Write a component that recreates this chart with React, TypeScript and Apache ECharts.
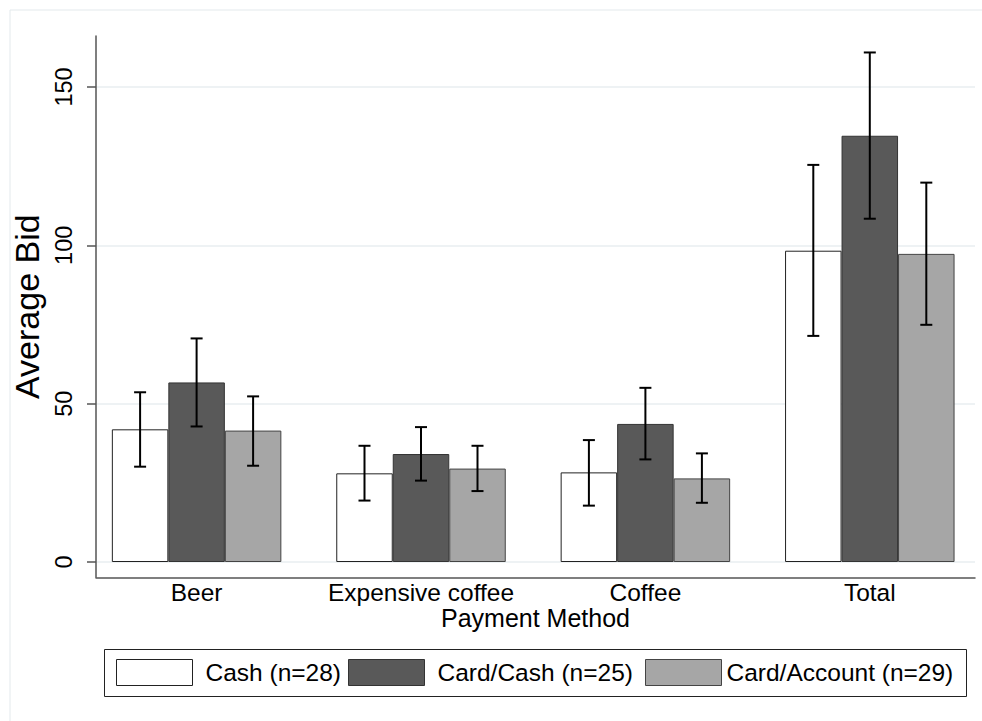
import React, { useEffect, useRef } from "react";
import * as echarts from "echarts";

const categories = ["Beer", "Expensive coffee", "Coffee", "Total"];
const seriesNames = ["Cash (n=28)", "Card/Cash (n=25)", "Card/Account (n=29)"];
const cashMean = [41.9, 28.0, 28.3, 98.3];
const cashLow = [30.1, 19.4, 17.8, 71.4];
const cashHigh = [53.6, 36.7, 38.5, 125.4];
const cardCashMean = [56.7, 34.1, 43.6, 134.6];
const cardCashLow = [42.8, 25.7, 32.4, 108.4];
const cardCashHigh = [70.6, 42.6, 55.0, 160.9];
const cardAccMean = [41.5, 29.5, 26.4, 97.3];
const cardAccLow = [30.4, 22.4, 18.7, 74.9];
const cardAccHigh = [52.3, 36.7, 34.3, 119.8];
const yTicks = [0, 50, 100, 150];

const FONT = "'Liberation Sans', Arial, Helvetica, sans-serif";
const BAR_W = 56.5;
const CAP_W = 12;
const Y_MIN = -4.83;
const Y_MAX = 166.1;

const fills = ["#ffffff", "#595959", "#a6a6a6"];
const borders = ["#222222", "#333333", "#444444"];

function errSeries(idx: number, lows: number[], highs: number[]) {
  return {
    type: "custom",
    name: "err" + idx,
    xAxisIndex: 1,
    yAxisIndex: 1,
    silent: true,
    z: 10,
    data: categories.map((_, i) => [i, lows[i], highs[i]]),
    encode: { x: 0, y: [1, 2] },
    renderItem: (params: any, api: any) => {
      const cat = api.value(0);
      const lo = api.coord([cat, api.value(1)]);
      const hi = api.coord([cat, api.value(2)]);
      const x = lo[0] + (idx - 1) * BAR_W;
      const h = CAP_W / 2;
      const st = { stroke: "#000000", lineWidth: 2 };
      return {
        type: "group",
        children: [
          { type: "line", shape: { x1: x, y1: hi[1], x2: x, y2: lo[1] }, style: st },
          { type: "line", shape: { x1: x - h, y1: hi[1], x2: x + h, y2: hi[1] }, style: st },
          { type: "line", shape: { x1: x - h, y1: lo[1], x2: x + h, y2: lo[1] }, style: st },
        ],
      };
    },
  };
}

function barSeries(idx: number, values: number[]) {
  return {
    type: "bar",
    name: seriesNames[idx],
    xAxisIndex: 1,
    yAxisIndex: 1,
    barWidth: BAR_W,
    barGap: "0%",
    data: values,
    itemStyle: { color: fills[idx], borderColor: borders[idx], borderWidth: 1 },
  };
}

const legendLefts = [116, 348, 645];
const legendPads = [8, 8, 0];

export default function App() {
  const ref = useRef<HTMLDivElement>(null);
  useEffect(() => {
    if (!ref.current) return;
    const chart = echarts.init(ref.current, undefined, { renderer: "svg" });
    const option: any = {
      animation: false,
      backgroundColor: "#ffffff",
      textStyle: { fontFamily: FONT },
      graphic: [
        {
          type: "rect",
          shape: { x: 10, y: 10, width: 990, height: 730 },
          style: { fill: "none", stroke: "#e3e9ec", lineWidth: 1 },
          silent: true,
        },
        {
          type: "rect",
          shape: { x: 104.5, y: 649.5, width: 862, height: 47 },
          style: { fill: "none", stroke: "#222222", lineWidth: 1 },
          silent: true,
        },
      ],
      legend: seriesNames.map((n, i) => ({
        data: [n],
        left: legendLefts[i],
        top: 659,
        padding: 0,
        itemWidth: 76,
        itemHeight: 26,
        icon: "rect",
        selectedMode: false,
        itemStyle: { borderWidth: 1 },
        textStyle: { fontSize: 24.5, color: "#000", fontFamily: FONT, padding: [0, 0, 0, legendPads[i]] },
      })),
      grid: [
        { left: 96, top: 36, width: 879, height: 541.3 },
        { left: 84.4, top: 36, width: 902.7, height: 541.3 },
      ],
      xAxis: [
        {
          type: "value",
          gridIndex: 0,
          min: 0,
          max: 1,
          axisLine: { show: true, onZero: false, lineStyle: { color: "#555555", width: 1.5 } },
          axisTick: { show: false },
          axisLabel: { show: false },
          splitLine: { show: false },
          name: "Payment Method",
          nameLocation: "middle",
          nameGap: 28,
          nameTextStyle: { fontSize: 25, color: "#000", fontFamily: FONT },
        },
        {
          type: "category",
          gridIndex: 1,
          data: categories,
          axisLine: { show: false, onZero: false },
          axisTick: { show: false },
          axisLabel: { interval: 0, fontSize: 24.5, color: "#000", margin: 3, fontFamily: FONT },
          splitLine: { show: false },
        },
      ],
      yAxis: [
        {
          type: "value",
          gridIndex: 0,
          min: Y_MIN,
          max: Y_MAX,
          axisLine: { show: true, onZero: false, lineStyle: { color: "#555555", width: 1.5 } },
          axisTick: { show: true, length: 9, customValues: yTicks, lineStyle: { color: "#555555", width: 1.5 } },
          axisLabel: { customValues: yTicks, rotate: 90, margin: 20, fontSize: 23.5, color: "#000", fontFamily: FONT },
          splitLine: { show: true, lineStyle: { color: "#e8eef1", width: 1.5 } },
          name: "Average Bid",
          nameLocation: "middle",
          nameRotate: 90,
          nameGap: 49,
          nameTextStyle: { fontSize: 34, color: "#000", fontFamily: FONT },
        },
        {
          type: "value",
          gridIndex: 1,
          min: Y_MIN,
          max: Y_MAX,
          show: false,
          splitLine: { show: false },
        },
      ],
      series: [
        barSeries(0, cashMean),
        barSeries(1, cardCashMean),
        barSeries(2, cardAccMean),
        errSeries(0, cashLow, cashHigh),
        errSeries(1, cardCashLow, cardCashHigh),
        errSeries(2, cardAccLow, cardAccHigh),
      ],
    };
    chart.setOption(option);
    return () => chart.dispose();
  }, []);
  return (
    <div
      ref={ref}
      style={{ position: "fixed", left: 0, top: 0, width: 982, height: 721, background: "#fff" }}
    />
  );
}
